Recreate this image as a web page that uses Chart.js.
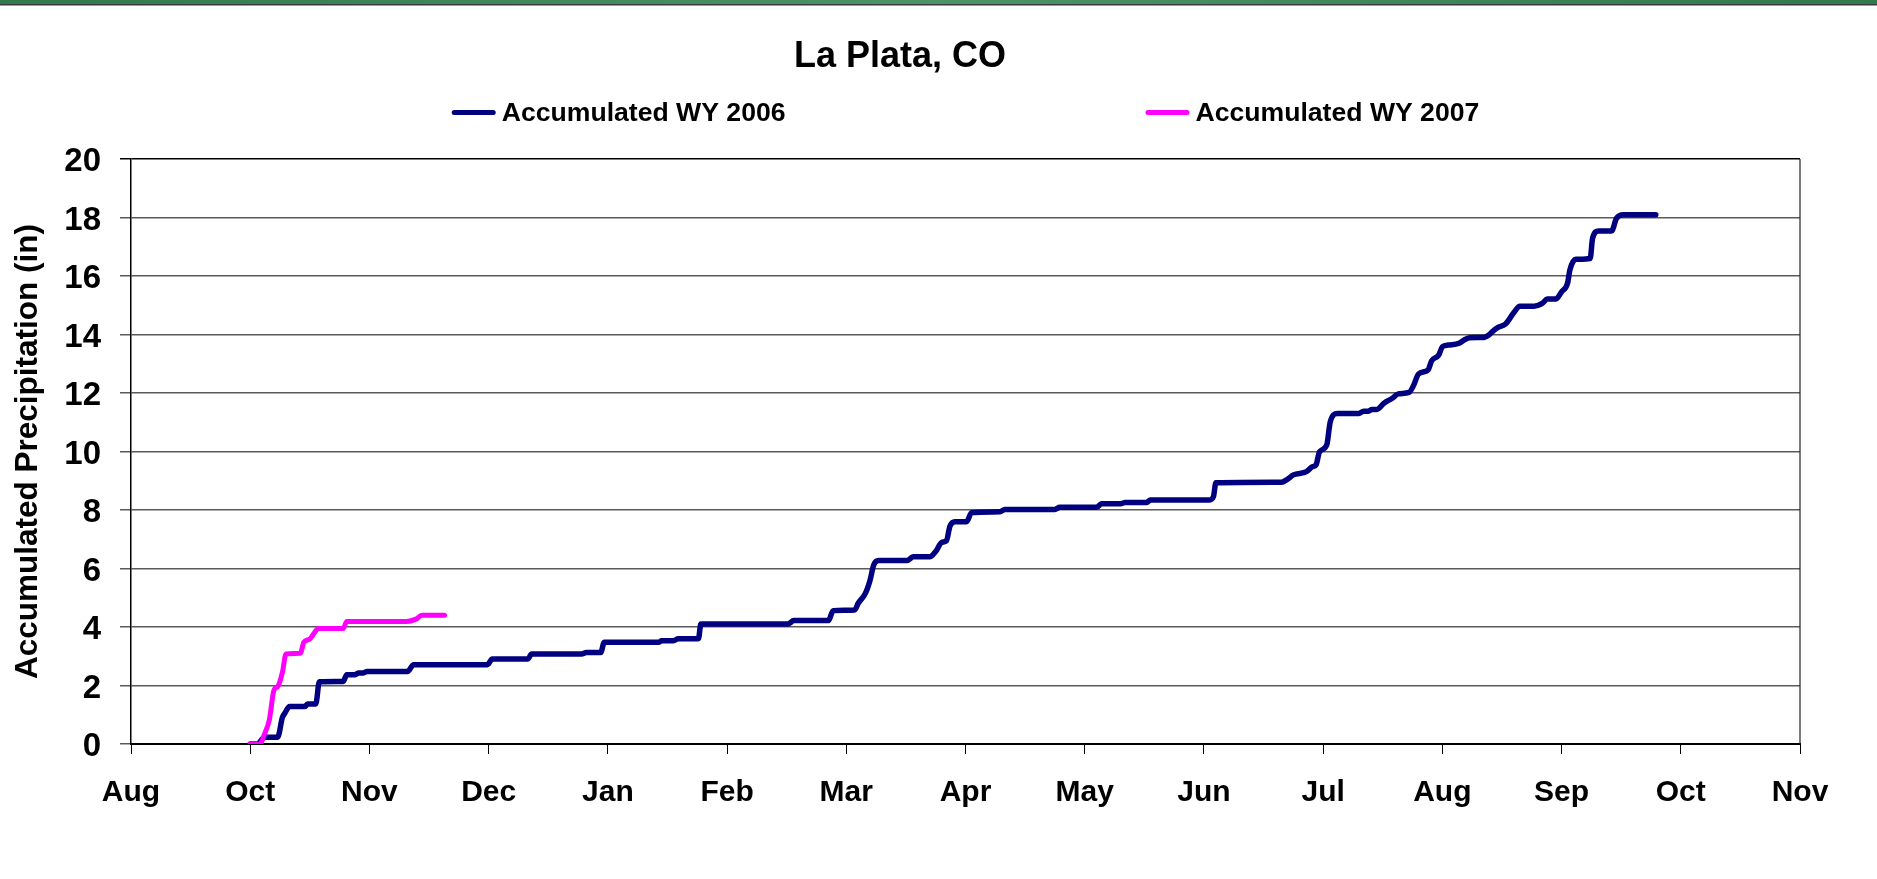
<!DOCTYPE html>
<html>
<head>
<meta charset="utf-8">
<script src="https://cdn.jsdelivr.net/npm/chart.js@4/dist/chart.umd.min.js"></script>
<style>
  html, body { margin: 0; padding: 0; background: #fff; }
  #wrap { width: 1877px; height: 879px; position: relative; }
</style>
</head>
<body>
<div id="wrap"><canvas id="c"></canvas></div>
<script>
// ---------------- data ----------------
const chartTitle = 'La Plata, CO';
const yAxisTitle = 'Accumulated Precipitation (in)';
const monthLabels = ['Aug','Oct','Nov','Dec','Jan','Feb','Mar','Apr','May','Jun','Jul','Aug','Sep','Oct','Nov'];
const yTickValues = [0, 2, 4, 6, 8, 10, 12, 14, 16, 18, 20];
const seriesNames = ['Accumulated WY 2006', 'Accumulated WY 2007'];
const seriesColors = ['#000080', '#FF00FF'];

// x in axis-label units (0 = first "Aug" tick, 1 = "Oct" tick, ...)
const wy2006X = [1.00,1.06,1.12,1.23,1.27,1.29,1.33,1.46,1.48,1.55,1.58,1.78,1.81,1.88,1.91,1.95,1.98,2.32,2.37,2.99,
  3.03,3.33,3.36,3.78,3.82,3.94,3.97,4.43,4.45,4.55,4.59,4.76,4.78,
  5.51,5.56,5.85,5.89,6.07,6.10,6.16,6.20,6.23,6.27,6.51,6.56,6.70,6.75,6.80,6.84,6.87,6.91,7.01,7.05,7.29,7.33,
  7.75,7.79,8.10,8.14,8.30,8.34,8.52,8.55,9.04,9.08,9.10,
  9.65,9.70,9.75,9.86,9.91,9.94,9.97,10.03,10.06,10.12,10.30,10.34,10.38,10.41,10.45,10.51,10.58,10.63,10.72,
  10.76,10.80,10.88,10.91,10.97,11.00,11.05,11.14,11.19,11.23,11.35,11.39,11.42,11.47,11.53,11.60,11.65,11.77,
  11.84,11.88,11.95,12.00,12.05,12.07,12.12,12.24,12.26,12.31,12.42,12.46,12.52,12.79];
const wy2006Y = [0.00,0.00,0.23,0.23,0.91,1.05,1.28,1.28,1.37,1.37,2.13,2.14,2.37,2.37,2.43,2.43,2.48,2.48,2.71,2.71,
  2.91,2.91,3.08,3.08,3.13,3.13,3.48,3.48,3.53,3.53,3.60,3.60,4.10,
  4.10,4.22,4.22,4.56,4.58,4.81,5.15,5.61,6.12,6.27,6.27,6.40,6.40,6.58,6.89,6.95,7.45,7.60,7.60,7.91,7.94,8.02,
  8.02,8.09,8.09,8.21,8.21,8.26,8.26,8.34,8.34,8.46,8.93,
  8.95,9.05,9.20,9.31,9.48,9.54,9.99,10.22,11.02,11.30,11.30,11.38,11.38,11.44,11.44,11.65,11.82,11.97,12.02,
  12.27,12.65,12.79,13.10,13.30,13.58,13.64,13.70,13.83,13.89,13.90,13.98,14.10,14.25,14.36,14.75,14.97,14.97,
  15.07,15.21,15.21,15.46,15.75,16.21,16.57,16.60,17.29,17.54,17.54,17.97,18.09,18.09];

const wy2007X = [1.00,1.08,1.12,1.16,1.20,1.23,1.27,1.30,1.42,1.45,1.50,1.55,1.57,1.78,1.81,2.31,2.39,2.44,2.63];
const wy2007Y = [0.00,0.00,0.34,0.82,1.85,1.96,2.45,3.08,3.10,3.48,3.59,3.87,3.95,3.95,4.19,4.19,4.27,4.40,4.40];

// ---------------- chart ----------------
const FONT = '"Liberation Sans", Arial, Helvetica, sans-serif';
const toPoints = (xs, ys) => xs.map((x, i) => ({ x: x, y: ys[i] }));

const bannerPlugin = {
  id: 'banner',
  beforeDraw(chart) {
    const ctx = chart.ctx;
    ctx.save();
    ctx.fillStyle = '#ffffff';
    ctx.fillRect(0, 0, chart.width, chart.height);
    const g = ctx.createLinearGradient(0, 0, chart.width, 0);
    g.addColorStop(0, '#2f7a4c');
    g.addColorStop(0.5, '#4a9468');
    g.addColorStop(1, '#2f7a4c');
    ctx.fillStyle = g;
    ctx.fillRect(0, 0, chart.width, 4);
    ctx.fillStyle = '#3a3a3a';
    ctx.fillRect(0, 4, chart.width, 1.5);
    ctx.restore();
  }
};

const frameLegendPlugin = {
  id: 'frameLegend',
  afterDraw(chart) {
    const ctx = chart.ctx;
    const ca = chart.chartArea;
    ctx.save();
    // right border of plot area
    ctx.strokeStyle = '#222';
    ctx.lineWidth = 1.2;
    ctx.beginPath();
    ctx.moveTo(ca.right, ca.top);
    ctx.lineTo(ca.right, ca.bottom);
    ctx.stroke();

    // legend
    ctx.font = 'bold 26.6px ' + FONT;
    ctx.textBaseline = 'middle';
    ctx.textAlign = 'left';
    const lineLen = 44, gapT = 6, gapItems = 360;
    const widths = seriesNames.map(n => ctx.measureText(n).width);
    const total = widths.reduce((a, w) => a + lineLen + gapT + w, 0) + gapItems * (seriesNames.length - 1);
    let x = (ca.left + ca.right) / 2 - total / 2;
    const y = ca.top - 46.5;
    seriesNames.forEach((name, i) => {
      ctx.strokeStyle = seriesColors[i];
      ctx.lineWidth = 5;
      ctx.lineCap = 'round';
      ctx.beginPath();
      ctx.moveTo(x + 2.5, y);
      ctx.lineTo(x + lineLen - 2.5, y);
      ctx.stroke();
      ctx.fillStyle = '#000';
      ctx.fillText(name, x + lineLen + gapT, y + 1.2);
      x += lineLen + gapT + widths[i] + gapItems;
    });
    ctx.restore();
  }
};

new Chart(document.getElementById('c'), {
  type: 'line',
  data: {
    datasets: [
      {
        label: seriesNames[0],
        data: toPoints(wy2006X, wy2006Y),
        borderColor: seriesColors[0],
        backgroundColor: seriesColors[0],
        borderWidth: 5.5,
        pointRadius: 0,
        cubicInterpolationMode: 'monotone',
        borderCapStyle: 'round',
        borderJoinStyle: 'round',
        fill: false,
        order: 1
      },
      {
        label: seriesNames[1],
        data: toPoints(wy2007X, wy2007Y),
        borderColor: seriesColors[1],
        backgroundColor: seriesColors[1],
        borderWidth: 5,
        pointRadius: 0,
        cubicInterpolationMode: 'monotone',
        borderCapStyle: 'round',
        borderJoinStyle: 'round',
        fill: false,
        order: 0
      }
    ]
  },
  options: {
    responsive: true,
    maintainAspectRatio: false,
    animation: false,
    devicePixelRatio: 1,
    layout: { padding: { left: 0, right: 77, top: 0, bottom: 0 } },
    plugins: {
      legend: { display: false },
      tooltip: { enabled: false },
      title: {
        display: true,
        text: chartTitle,
        color: '#000',
        font: { family: FONT, size: 36, weight: 'bold' },
        padding: { top: 35, bottom: 80.8 }
      }
    },
    scales: {
      x: {
        type: 'linear',
        min: 0,
        max: monthLabels.length - 1,
        afterFit: s => { s.height = 135; },
        afterBuildTicks: s => { s.ticks = monthLabels.map((_, i) => ({ value: i })); },
        ticks: {
          autoSkip: false,
          maxRotation: 0,
          color: '#000',
          font: { family: FONT, size: 30, weight: 'bold' },
          padding: 21,
          callback: v => monthLabels[v] ?? ''
        },
        grid: { drawOnChartArea: false, drawTicks: true, tickLength: 10, color: '#000', lineWidth: 1 },
        border: { display: true, color: '#000', width: 2 }
      },
      y: {
        min: 0,
        max: 20,
        afterFit: s => { s.width = 131; },
        afterBuildTicks: s => { s.ticks = yTickValues.map(v => ({ value: v })); },
        ticks: {
          color: '#000',
          font: { family: FONT, size: 33, weight: 'bold' },
          padding: 19,
          labelOffset: 3
        },
        grid: {
          color: c => (c.tick && c.tick.value === 20) ? '#000' : '#5a5a5a',
          lineWidth: 1.5,
          tickLength: 11,
          drawTicks: true
        },
        border: { display: true, color: '#000', width: 1.5 },
        title: {
          display: true,
          text: yAxisTitle,
          color: '#000',
          font: { family: FONT, size: 31.5, weight: 'bold' },
          padding: { top: 9.5, bottom: 0 }
        }
      }
    }
  },
  plugins: [bannerPlugin, frameLegendPlugin]
});
</script>
</body>
</html>
